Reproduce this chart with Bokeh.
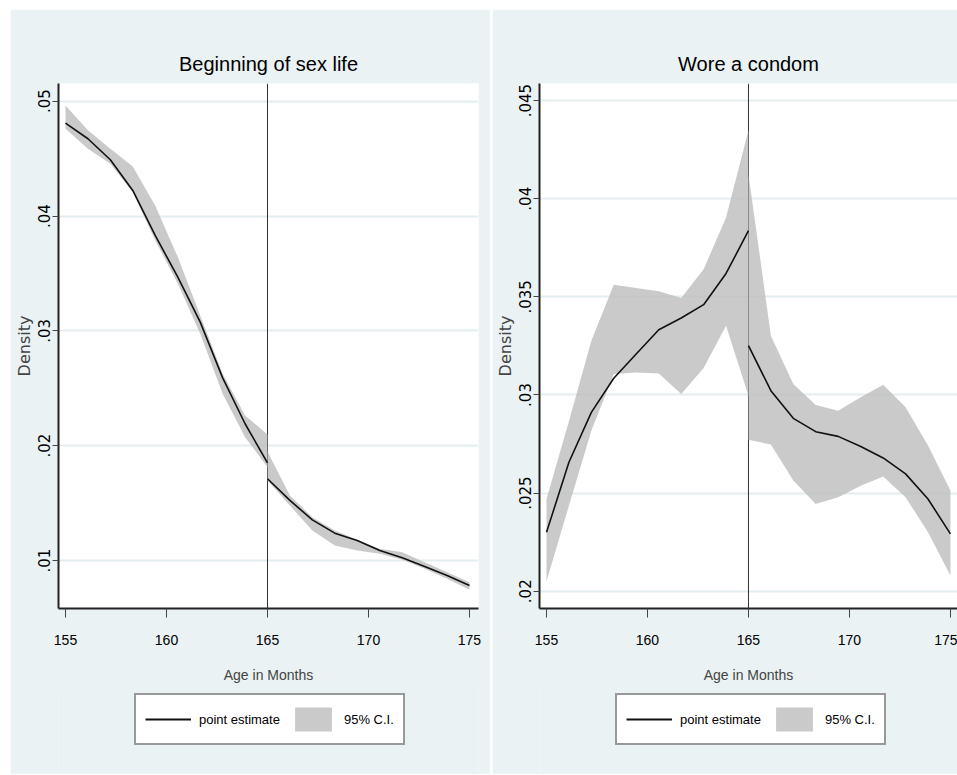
from bokeh.plotting import figure
from bokeh.models import Range1d, FixedTicker, Span, Legend, LegendItem
from bokeh.layouts import row, column
from bokeh.embed import file_html
from bokeh.resources import INLINE

# ---------------- data ----------------
age_below = [155.0, 156.11, 157.22, 158.33, 159.44, 160.56, 161.67, 162.78, 163.89, 165.0]
age_above = [165.0, 166.11, 167.22, 168.33, 169.44, 170.56, 171.67, 172.78, 173.89, 175.0]
x_ticks = [155, 160, 165, 170, 175]
cutoff = 165

# Panel 1: Beginning of sex life
sex_est_below = [0.04809, 0.04673, 0.04490, 0.04223, 0.03831, 0.03468, 0.03076, 0.02590, 0.02191, 0.01851]
sex_upper_below = [0.04963, 0.04746, 0.04586, 0.04432, 0.04092, 0.03642, 0.03134, 0.02626, 0.02263, 0.02098]
sex_lower_below = [0.04760, 0.04586, 0.04456, 0.04208, 0.03788, 0.03410, 0.02975, 0.02452, 0.02074, 0.01813]
sex_est_above = [0.01712, 0.01523, 0.01354, 0.01238, 0.01174, 0.01087, 0.01023, 0.00948, 0.00869, 0.00782]
sex_upper_above = [0.01950, 0.01566, 0.01377, 0.01261, 0.01180, 0.01102, 0.01072, 0.00985, 0.00898, 0.00811]
sex_lower_above = [0.01697, 0.01479, 0.01261, 0.01131, 0.01087, 0.01058, 0.01006, 0.00928, 0.00841, 0.00745]
sex_y_ticks = [0.01, 0.02, 0.03, 0.04, 0.05]
sex_y_labels = [".01", ".02", ".03", ".04", ".05"]

# Panel 2: Wore a condom
con_est_below = [0.02300, 0.02657, 0.02911, 0.03085, 0.03209, 0.03332, 0.03392, 0.03460, 0.03619, 0.03837]
con_upper_below = [0.02470, 0.02866, 0.03276, 0.03562, 0.03545, 0.03528, 0.03494, 0.03641, 0.03904, 0.04349]
con_lower_below = [0.02051, 0.02436, 0.02818, 0.03107, 0.03115, 0.03110, 0.03005, 0.03137, 0.03353, 0.02996]
con_est_above = [0.03251, 0.03022, 0.02881, 0.02813, 0.02789, 0.02737, 0.02679, 0.02598, 0.02470, 0.02292]
con_upper_above = [0.04125, 0.03302, 0.03056, 0.02949, 0.02920, 0.02988, 0.03052, 0.02937, 0.02742, 0.02513]
con_lower_above = [0.02772, 0.02747, 0.02564, 0.02445, 0.02479, 0.02538, 0.02584, 0.02479, 0.02300, 0.02080]
con_y_ticks = [0.02, 0.025, 0.03, 0.035, 0.04, 0.045]
con_y_labels = [".02", ".025", ".03", ".035", ".04", ".045"]

titles = ["Beginning of sex life", "Wore a condom"]
x_label = "Age in Months"
y_label = "Density"
legend_labels = ["point estimate", "95% C.I."]

# ---------------- style ----------------
BG = "#EAF2F3"
GRID = "#E3EDF0"
SANS = "Liberation Sans"
REG = "DejaVu Sans"
CI_FILL = "#BDBDBD"
CI_ALPHA = 0.8
LINE_COL = "#111111"


def panel(title, est_b, up_b, lo_b, est_a, up_a, lo_a, yticks, ylabels,
          y_start, y_end, x_end, width, b_left, b_right):
    p = figure(width=width, height=681,
               x_range=Range1d(154.653, x_end), y_range=Range1d(y_start, y_end),
               output_backend="svg", toolbar_location=None,
               min_border_left=b_left, min_border_right=b_right,
               min_border_top=74, min_border_bottom=82,
               background_fill_color="white", border_fill_color=BG,
               outline_line_color=None)

    p.title.text = title
    p.title.align = "center"
    p.title.text_font = SANS
    p.title.text_font_size = "20px"
    p.title.text_font_style = "normal"
    p.title.text_color = "black"
    p.title.standoff = 18

    p.xgrid.grid_line_color = None
    p.ygrid.grid_line_color = GRID
    p.ygrid.grid_line_width = 2

    p.yaxis.ticker = FixedTicker(ticks=yticks)
    p.yaxis.major_label_overrides = {t: l for t, l in zip(yticks, ylabels)}
    p.yaxis.major_label_orientation = "vertical"
    p.yaxis.major_label_text_font = REG
    p.yaxis.major_label_text_font_size = "15px"
    p.yaxis.major_label_text_color = "black"
    p.yaxis.major_label_standoff = 2
    p.yaxis.axis_label = y_label
    p.yaxis.axis_label_text_font = REG
    p.yaxis.axis_label_text_font_size = "16px"
    p.yaxis.axis_label_text_font_style = "normal"
    p.yaxis.axis_label_standoff = 2
    p.yaxis.major_tick_out = 6

    p.xaxis.ticker = FixedTicker(ticks=x_ticks)
    p.xaxis.major_label_text_font = SANS
    p.xaxis.major_label_text_font_size = "14px"
    p.xaxis.major_label_text_color = "black"
    p.xaxis.major_label_standoff = 17
    p.xaxis.axis_label = x_label
    p.xaxis.axis_label_text_font = SANS
    p.xaxis.axis_label_text_font_size = "14px"
    p.xaxis.axis_label_text_font_style = "normal"
    p.xaxis.axis_label_standoff = 19
    p.xaxis.major_tick_out = 9

    for ax in (p.xaxis, p.yaxis):
        ax.major_tick_in = 0
        ax.minor_tick_in = 0
        ax.minor_tick_out = 0
        ax.axis_line_color = "#222222"
        ax.axis_line_width = 2
        ax.major_tick_line_color = "#444444"
        ax.major_tick_line_width = 1

    vline = Span(location=cutoff, dimension="height", line_color="#333333",
                 line_width=1, level="underlay")
    p.add_layout(vline)

    p.varea(x=age_below, y1=lo_b, y2=up_b, fill_color=CI_FILL, fill_alpha=CI_ALPHA)
    p.varea(x=age_above, y1=lo_a, y2=up_a, fill_color=CI_FILL, fill_alpha=CI_ALPHA)
    p.line(age_below, est_b, line_color=LINE_COL, line_width=1.6)
    p.line(age_above, est_a, line_color=LINE_COL, line_width=1.6)
    return p


def legend_strip(width, b_left, b_right, est_b, up_b, lo_b):
    # strip under a panel that carries its legend box; the key glyphs reuse the
    # panel's series but the strip's ranges keep them out of view
    q = figure(width=width, height=85, x_range=Range1d(0, 1), y_range=Range1d(0, 1),
               output_backend="svg", toolbar_location=None,
               x_axis_location=None, y_axis_location=None,
               min_border_left=b_left, min_border_right=b_right,
               min_border_top=0, min_border_bottom=0,
               background_fill_color=BG, border_fill_color=BG,
               outline_line_color=None, margin=(-1, 0, 0, 0))
    q.grid.visible = False
    ln = q.line(age_below, est_b, line_color=LINE_COL, line_width=2)
    ar = q.varea(x=age_below, y1=lo_b, y2=up_b, fill_color=CI_FILL, fill_alpha=CI_ALPHA)
    legend = Legend(items=[LegendItem(label=legend_labels[0], renderers=[ln]),
                           LegendItem(label=legend_labels[1], renderers=[ar])],
                    orientation="horizontal", location=(76, 29),
                    label_text_font=SANS, label_text_font_size="13px",
                    label_text_color="black",
                    glyph_width=46, glyph_height=30, label_standoff=8,
                    spacing=10, padding=9, margin=0,
                    border_line_color="#333333", border_line_width=2,
                    background_fill_color="white", background_fill_alpha=1)
    q.add_layout(legend)
    return q


p1 = panel(titles[0], sex_est_below, sex_upper_below, sex_lower_below,
           sex_est_above, sex_upper_above, sex_lower_above,
           sex_y_ticks, sex_y_labels, 0.00582, 0.05154, 175.446, 480, 48, 12)
p2 = panel(titles[1], con_est_below, con_upper_below, con_lower_below,
           con_est_above, con_upper_above, con_lower_above,
           con_y_ticks, con_y_labels, 0.01912, 0.04587, 175.35, 465, 47, 0)
l1 = legend_strip(480, 48, 12, sex_est_below, sex_upper_below, sex_lower_below)
l2 = legend_strip(465, 47, 0, con_est_below, con_upper_below, con_lower_below)

layout = row(column(p1, l1), column(p2, l2), spacing=2, margin=(9, 0, 0, 10))
open("out.html", "w").write(file_html(layout, INLINE))
